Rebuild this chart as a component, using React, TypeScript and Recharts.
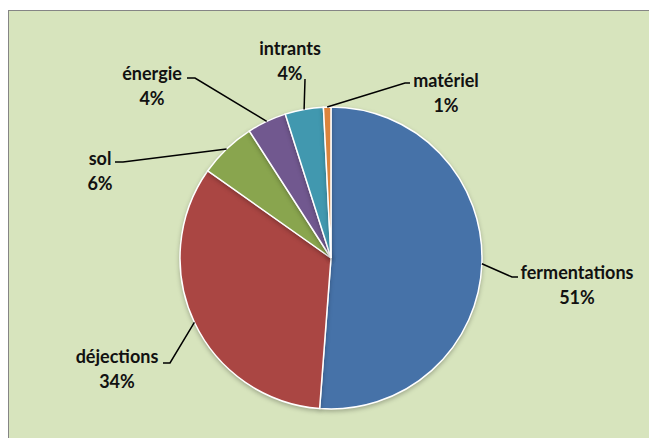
import React from "react";
import { PieChart, Pie, Cell } from "recharts";

const categories = ["fermentations", "déjections", "sol", "énergie", "intrants", "matériel"];
const shares = [51.2, 33.6, 6.1, 4.2, 4.1, 0.8];
const colors = ["#4672A8", "#AA4643", "#89A54E", "#71588F", "#4198AF", "#DB843D"];

const data = categories.map((name, i) => ({ name, value: shares[i] }));

// label layout, offsets relative to the pie centre: text centre, elbow, end of leader
const labelLayout = [
  { tx: 246, ty: 14, ex: 181, ey: 19, hx: 187 },
  { tx: -214, ty: 98, ex: -161, ey: 105, hx: -168 },
  { tx: -231, ty: -100, ex: -208, ey: -96, hx: -216 },
  { tx: -179, ty: -185, ex: -136, ey: -180, hx: -144 },
  { tx: -41, ty: -210, ex: -26, ey: -179, hx: -26 },
  { tx: 115, ty: -178, ex: 74, ey: -175, hx: 79 },
];

const RAD = Math.PI / 180;

const renderLabel = (props: any) => {
  const { cx, cy, midAngle, outerRadius, percent, index, name } = props;
  const l = labelLayout[index];
  const sx = cx + outerRadius * Math.cos(-midAngle * RAD);
  const sy = cy + outerRadius * Math.sin(-midAngle * RAD);
  const pts = `${sx},${sy} ${cx + l.ex},${cy + l.ey} ${cx + l.hx},${cy + l.ey}`;
  const tx = cx + l.tx;
  const ty = cy + l.ty;
  return (
    <g>
      <polyline points={pts} fill="none" stroke="#000" strokeWidth={1.5} />
      <text x={tx} y={ty} textAnchor="middle" dominantBaseline="central" fill="#111"
        style={{ fontFamily: "Lato, sans-serif", fontWeight: 700, fontSize: 18 }}>
        {name}
      </text>
      <text x={tx} y={ty + 25} textAnchor="middle" dominantBaseline="central" fill="#111"
        style={{ fontFamily: "Lato, sans-serif", fontWeight: 700, fontSize: 18 }}>
        {`${Math.round(percent * 100)}%`}
      </text>
    </g>
  );
};

export default function App() {
  return (
    <div style={{ width: 649, height: 430, position: "relative" }}>
      <style>{`.recharts-pie-sector { filter: drop-shadow(0px 2px 2px rgba(0,0,0,0.25)); }`}</style>
      <div
        style={{
          position: "absolute",
          left: 0,
          top: 2,
          width: 648,
          height: 427,
          background: "#D7E4BD",
          borderTop: "1px solid #858585",
          borderLeft: "1px solid #858585",
        }}
      >
        <PieChart width={648} height={427} margin={{ top: 0, right: 0, bottom: 0, left: 0 }}>
          <Pie
            data={data}
            dataKey="value"
            nameKey="name"
            cx={322}
            cy={247}
            outerRadius={151}
            startAngle={90}
            endAngle={-270}
            stroke="#ffffff"
            strokeWidth={1.5}
            label={renderLabel}
            labelLine={false}
            isAnimationActive={false}
          >
            {data.map((d, i) => (
              <Cell key={d.name} fill={colors[i]} />
            ))}
          </Pie>
        </PieChart>
      </div>
    </div>
  );
}
